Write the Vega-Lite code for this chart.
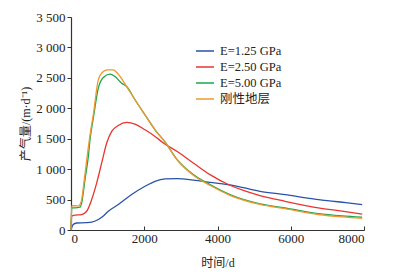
{
  "$schema": "https://vega.github.io/schema/vega-lite/v6.json",
  "width": 293,
  "height": 213,
  "autosize": {"type": "none"},
  "padding": {"left": 71, "top": 17, "right": 32, "bottom": 45},
  "background": "white",
  "config": {
    "view": {"stroke": null},
    "font": "Liberation Serif, Noto Sans CJK SC",
    "axis": {
      "grid": false,
      "domainColor": "#333",
      "tickColor": "#333",
      "labelColor": "#222",
      "titleColor": "#222",
      "labelFont": "Liberation Serif",
      "labelFontSize": 13,
      "titleFont": "Liberation Serif, Noto Sans CJK SC",
      "titleFontSize": 12,
      "titleFontWeight": "normal",
      "domainWidth": 1.2
    }
  },
  "data": {
    "values": [
      {"s": "E=1.25 GPa", "t": 0, "q": 0},
      {"s": "E=1.25 GPa", "t": 60, "q": 90},
      {"s": "E=1.25 GPa", "t": 155, "q": 115},
      {"s": "E=1.25 GPa", "t": 400, "q": 120},
      {"s": "E=1.25 GPa", "t": 565, "q": 128},
      {"s": "E=1.25 GPa", "t": 746, "q": 172},
      {"s": "E=1.25 GPa", "t": 900, "q": 240},
      {"s": "E=1.25 GPa", "t": 1020, "q": 308},
      {"s": "E=1.25 GPa", "t": 1292, "q": 418},
      {"s": "E=1.25 GPa", "t": 1656, "q": 582},
      {"s": "E=1.25 GPa", "t": 2020, "q": 718},
      {"s": "E=1.25 GPa", "t": 2294, "q": 800},
      {"s": "E=1.25 GPa", "t": 2567, "q": 839},
      {"s": "E=1.25 GPa", "t": 2900, "q": 845},
      {"s": "E=1.25 GPa", "t": 3340, "q": 820},
      {"s": "E=1.25 GPa", "t": 3795, "q": 784},
      {"s": "E=1.25 GPa", "t": 4340, "q": 740},
      {"s": "E=1.25 GPa", "t": 4705, "q": 695},
      {"s": "E=1.25 GPa", "t": 5160, "q": 636},
      {"s": "E=1.25 GPa", "t": 5843, "q": 582},
      {"s": "E=1.25 GPa", "t": 6570, "q": 516},
      {"s": "E=1.25 GPa", "t": 7000, "q": 482},
      {"s": "E=1.25 GPa", "t": 7500, "q": 450},
      {"s": "E=1.25 GPa", "t": 7950, "q": 418},
      {"s": "E=2.50 GPa", "t": 0, "q": 0},
      {"s": "E=2.50 GPa", "t": 20, "q": 226},
      {"s": "E=2.50 GPa", "t": 70, "q": 240},
      {"s": "E=2.50 GPa", "t": 292, "q": 254},
      {"s": "E=2.50 GPa", "t": 428, "q": 308},
      {"s": "E=2.50 GPa", "t": 565, "q": 500},
      {"s": "E=2.50 GPa", "t": 702, "q": 774},
      {"s": "E=2.50 GPa", "t": 838, "q": 1102},
      {"s": "E=2.50 GPa", "t": 975, "q": 1430},
      {"s": "E=2.50 GPa", "t": 1111, "q": 1620},
      {"s": "E=2.50 GPa", "t": 1292, "q": 1718},
      {"s": "E=2.50 GPa", "t": 1520, "q": 1767},
      {"s": "E=2.50 GPa", "t": 1747, "q": 1741},
      {"s": "E=2.50 GPa", "t": 2020, "q": 1647},
      {"s": "E=2.50 GPa", "t": 2294, "q": 1538},
      {"s": "E=2.50 GPa", "t": 2521, "q": 1430},
      {"s": "E=2.50 GPa", "t": 2900, "q": 1290},
      {"s": "E=2.50 GPa", "t": 3340, "q": 1100},
      {"s": "E=2.50 GPa", "t": 3795, "q": 910},
      {"s": "E=2.50 GPa", "t": 4340, "q": 735},
      {"s": "E=2.50 GPa", "t": 4705, "q": 650},
      {"s": "E=2.50 GPa", "t": 5160, "q": 566},
      {"s": "E=2.50 GPa", "t": 5843, "q": 472},
      {"s": "E=2.50 GPa", "t": 6752, "q": 364},
      {"s": "E=2.50 GPa", "t": 7400, "q": 310},
      {"s": "E=2.50 GPa", "t": 7950, "q": 262},
      {"s": "E=5.00 GPa", "t": 0, "q": 0},
      {"s": "E=5.00 GPa", "t": 20, "q": 364},
      {"s": "E=5.00 GPa", "t": 110, "q": 364},
      {"s": "E=5.00 GPa", "t": 246, "q": 374},
      {"s": "E=5.00 GPa", "t": 292, "q": 446},
      {"s": "E=5.00 GPa", "t": 382, "q": 828},
      {"s": "E=5.00 GPa", "t": 473, "q": 1210},
      {"s": "E=5.00 GPa", "t": 519, "q": 1484},
      {"s": "E=5.00 GPa", "t": 610, "q": 1840},
      {"s": "E=5.00 GPa", "t": 746, "q": 2331},
      {"s": "E=5.00 GPa", "t": 882, "q": 2505},
      {"s": "E=5.00 GPa", "t": 1065, "q": 2560},
      {"s": "E=5.00 GPa", "t": 1200, "q": 2521},
      {"s": "E=5.00 GPa", "t": 1384, "q": 2413},
      {"s": "E=5.00 GPa", "t": 1520, "q": 2357},
      {"s": "E=5.00 GPa", "t": 1747, "q": 2140},
      {"s": "E=5.00 GPa", "t": 2020, "q": 1893},
      {"s": "E=5.00 GPa", "t": 2294, "q": 1647},
      {"s": "E=5.00 GPa", "t": 2567, "q": 1446},
      {"s": "E=5.00 GPa", "t": 2900, "q": 1156},
      {"s": "E=5.00 GPa", "t": 3340, "q": 910},
      {"s": "E=5.00 GPa", "t": 3795, "q": 746},
      {"s": "E=5.00 GPa", "t": 4340, "q": 582},
      {"s": "E=5.00 GPa", "t": 5160, "q": 430},
      {"s": "E=5.00 GPa", "t": 5843, "q": 364},
      {"s": "E=5.00 GPa", "t": 6752, "q": 270},
      {"s": "E=5.00 GPa", "t": 7400, "q": 232},
      {"s": "E=5.00 GPa", "t": 7950, "q": 210},
      {"s": "刚性地层", "t": 0, "q": 0},
      {"s": "刚性地层", "t": 20, "q": 402},
      {"s": "刚性地层", "t": 200, "q": 395},
      {"s": "刚性地层", "t": 280, "q": 470},
      {"s": "刚性地层", "t": 370, "q": 860},
      {"s": "刚性地层", "t": 460, "q": 1300},
      {"s": "刚性地层", "t": 519, "q": 1560},
      {"s": "刚性地层", "t": 610, "q": 1900},
      {"s": "刚性地层", "t": 746, "q": 2467},
      {"s": "刚性地层", "t": 882, "q": 2603},
      {"s": "刚性地层", "t": 1002, "q": 2631},
      {"s": "刚性地层", "t": 1155, "q": 2631},
      {"s": "刚性地层", "t": 1292, "q": 2560},
      {"s": "刚性地层", "t": 1520, "q": 2357},
      {"s": "刚性地层", "t": 1747, "q": 2140},
      {"s": "刚性地层", "t": 2020, "q": 1893},
      {"s": "刚性地层", "t": 2294, "q": 1647},
      {"s": "刚性地层", "t": 2567, "q": 1446},
      {"s": "刚性地层", "t": 2900, "q": 1150},
      {"s": "刚性地层", "t": 3340, "q": 900},
      {"s": "刚性地层", "t": 3795, "q": 735},
      {"s": "刚性地层", "t": 4340, "q": 570},
      {"s": "刚性地层", "t": 5160, "q": 420},
      {"s": "刚性地层", "t": 5843, "q": 350},
      {"s": "刚性地层", "t": 6752, "q": 255},
      {"s": "刚性地层", "t": 7400, "q": 215},
      {"s": "刚性地层", "t": 7950, "q": 192}
    ]
  },
  "mark": {"type": "line", "strokeWidth": 1.3, "interpolate": "monotone"},
  "encoding": {
    "x": {
      "field": "t", "type": "quantitative",
      "scale": {"domain": [0, 8000], "nice": false},
      "axis": {
        "values": [0, 2000, 4000, 6000, 8000],
        "format": "d",
        "title": "时间/d",
        "tickSize": -4,
        "labelPadding": 6,
        "titleX": 146.5,
        "titleY": 32,
        "titleBaseline": "middle",
        "titleAlign": "center"
      }
    },
    "y": {
      "field": "q", "type": "quantitative",
      "scale": {"domain": [0, 3500], "nice": false},
      "axis": {
        "values": [0, 500, 1000, 1500, 2000, 2500, 3000, 3500],
        "labelExpr": "replace(format(datum.value, ','), ',', ' ')",
        "title": "产气量/(m·d⁻¹)",
        "tickSize": 4,
        "labelPadding": 2,
        "titleX": -46,
        "titleY": 106.5,
        "titleAngle": -90,
        "titleBaseline": "middle",
        "titleAlign": "center"
      }
    },
    "color": {
      "field": "s", "type": "nominal",
      "scale": {
        "domain": ["E=1.25 GPa", "E=2.50 GPa", "E=5.00 GPa", "刚性地层"],
        "range": ["#2a52a8", "#e8352f", "#1da54a", "#f0982f"]
      },
      "legend": {
        "title": null,
        "orient": "none",
        "legendX": 124,
        "legendY": 26,
        "symbolType": "stroke",
        "symbolSize": 324,
        "symbolStrokeWidth": 1.3,
        "labelFont": "Liberation Serif, Noto Sans CJK SC",
        "labelFontSize": 12.5,
        "labelColor": "#222",
        "labelOffset": 5,
        "clipHeight": 16,
        "rowPadding": 0
      }
    }
  }
}
